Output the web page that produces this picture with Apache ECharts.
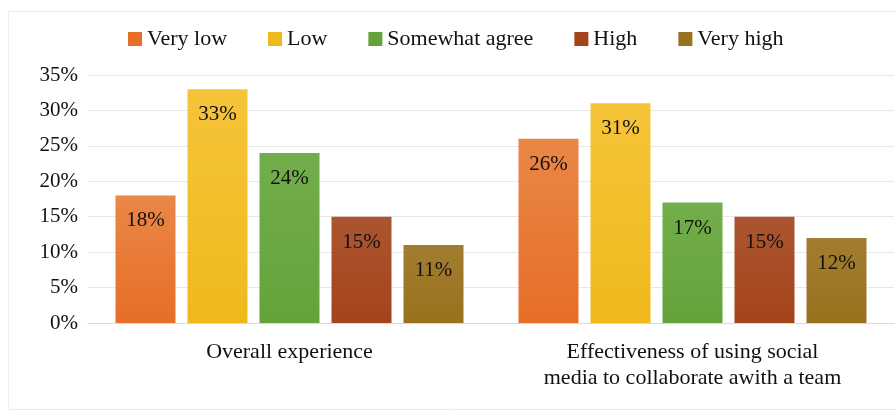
<!DOCTYPE html>
<html>
<head>
<meta charset="utf-8">
<script src="https://cdn.jsdelivr.net/npm/echarts@6/dist/echarts.min.js"></script>
<style>
  html, body { margin: 0; padding: 0; background: #ffffff; }
  #chart { width: 896px; height: 413px; }
</style>
</head>
<body>
<div id="chart"></div>
<script>
// Survey response shares per question, in percent
const categories = ['Overall experience', 'Effectiveness of using social\nmedia to collaborate awith a team'];
const seriesNames = ['Very low', 'Low', 'Somewhat agree', 'High', 'Very high'];
const veryLow = [18, 26];
const low = [33, 31];
const somewhatAgree = [24, 17];
const high = [15, 15];
const veryHigh = [11, 12];
const yTicks = [0, 5, 10, 15, 20, 25, 30, 35];

const values = [veryLow, low, somewhatAgree, high, veryHigh];
// top / bottom colours of each bar's vertical gradient
const palette = [
  ['#EA8747', '#E66E27'],
  ['#F6C43A', '#EFB91C'],
  ['#72AE4B', '#64A33A'],
  ['#AA5630', '#A5431B'],
  ['#A27D30', '#98721E']
];
const serif = '"Liberation Serif", "Times New Roman", serif';

const chart = echarts.init(document.getElementById('chart'), null, { renderer: 'canvas' });

const series = seriesNames.map((name, i) => ({
  name: name,
  type: 'bar',
  data: values[i],
  barWidth: 60,
  barGap: '20%',
  itemStyle: {
    color: new echarts.graphic.LinearGradient(0, 0, 0, 1, [
      { offset: 0, color: palette[i][0] },
      { offset: 1, color: palette[i][1] }
    ])
  },
  label: {
    show: true,
    position: 'insideTop',
    distance: 15,
    formatter: p => p.value + '%',
    color: '#111',
    fontFamily: serif,
    fontSize: 21
  },
  emphasis: { disabled: true }
}));

chart.setOption({
  animation: false,
  graphic: [{
    type: 'rect',
    shape: { x: 8.5, y: 11.5, width: 900, height: 398 },
    style: { fill: 'none', stroke: '#ececec', lineWidth: 1 },
    silent: true,
    z: -10
  }],
  legend: {
    top: 23,
    left: 123,
    itemWidth: 14,
    itemHeight: 14,
    itemGap: 41,
    icon: 'rect',
    textStyle: { fontFamily: serif, fontSize: 22, color: '#111' },
    data: seriesNames.map((n, i) => ({ name: n, itemStyle: { color: palette[i][1] } }))
  },
  grid: { left: 88, right: 2, top: 75, bottom: 90 },
  xAxis: {
    type: 'category',
    data: categories,
    axisLine: { show: true, lineStyle: { color: '#d9d9d9' } },
    axisTick: { show: false },
    axisLabel: {
      margin: 16,
      fontFamily: serif,
      fontSize: 22,
      lineHeight: 26,
      color: '#111',
      interval: 0
    }
  },
  yAxis: {
    type: 'value',
    min: yTicks[0],
    max: yTicks[yTicks.length - 1],
    interval: yTicks[1] - yTicks[0],
    axisLine: { show: false },
    axisTick: { show: false },
    splitLine: { lineStyle: { color: '#e8e8e8' } },
    axisLabel: {
      margin: 10,
      formatter: v => v + '%',
      fontFamily: serif,
      fontSize: 21,
      color: '#111'
    }
  },
  series: series
});
</script>
</body>
</html>
